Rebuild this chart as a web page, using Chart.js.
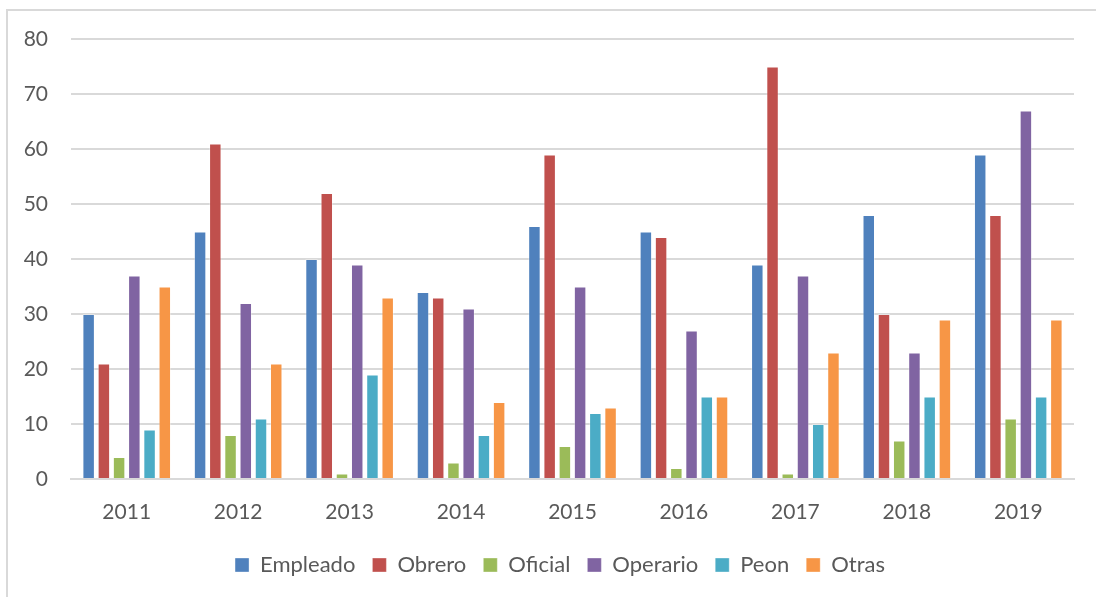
<!DOCTYPE html>
<html>
<head>
<meta charset="utf-8">
<script src="https://cdn.jsdelivr.net/npm/chart.js@4"></script>
<style>
  html, body { margin: 0; padding: 0; background: #fff; }
  #marco { position: absolute; left: 6px; top: 9px; width: 1200px; height: 700px; border: 2px solid #d9d9d9; }
  #caja { position: absolute; left: 0; top: 0; width: 1096px; height: 597px; }
</style>
</head>
<body>
<div id="marco"></div>
<div id="caja"><canvas id="grafico"></canvas></div>
<script>
// Datos
const anios = ["2011", "2012", "2013", "2014", "2015", "2016", "2017", "2018", "2019"];
const empleado = [30, 45, 40, 34, 46, 45, 39, 48, 59];
const obrero   = [21, 61, 52, 33, 59, 44, 75, 30, 48];
const oficial  = [4, 8, 1, 3, 6, 2, 1, 7, 11];
const operario = [37, 32, 39, 31, 35, 27, 37, 23, 67];
const peon     = [9, 11, 19, 8, 12, 15, 10, 15, 15];
const otras    = [35, 21, 33, 14, 13, 15, 23, 29, 29];

const series = [
    { label: "Empleado", data: empleado, color: "#4F81BD" },
    { label: "Obrero",   data: obrero,   color: "#C0504D" },
    { label: "Oficial",  data: oficial,  color: "#9BBB59" },
    { label: "Operario", data: operario, color: "#8064A2" },
    { label: "Peon",     data: peon,     color: "#4BACC6" },
    { label: "Otras",    data: otras,    color: "#F79646" }
];

const fuente = "Lato, 'Open Sans', sans-serif";

// corre la leyenda un poco a la derecha, como en el original
const moverLeyenda = {
    id: "moverLeyenda",
    afterLayout(chart) {
        chart.legend.left += 23;
        chart.legend.right += 23;
    }
};

new Chart(document.getElementById("grafico"), {
    type: "bar",
    data: {
        labels: anios,
        datasets: series.map(s => ({
            label: s.label,
            data: s.data,
            backgroundColor: s.color,
            borderColor: "rgba(255,255,255,0.35)",
            borderWidth: 1,
            categoryPercentage: 0.82,
            barPercentage: 0.82
        }))
    },
    options: {
        responsive: true,
        maintainAspectRatio: false,
        animation: false,
        layout: { padding: { left: 0, right: 22, top: 39, bottom: 11 } },
        scales: {
            x: {
                afterFit: s => { s.height = 58; },
                grid: { display: false, drawTicks: false },
                border: { color: "#d9d9d9", width: 2 },
                ticks: { color: "#595959", font: { family: fuente, size: 21 }, padding: 21 }
            },
            y: {
                min: 0, max: 80,
                afterFit: s => { s.width = 71; },
                grid: { color: "#d9d9d9", lineWidth: 2, drawTicks: false },
                border: { display: false },
                ticks: { stepSize: 10, color: "#595959", font: { family: fuente, size: 21 }, padding: 23 }
            }
        },
        plugins: {
            tooltip: { enabled: false },
            legend: {
                position: "bottom",
                labels: {
                    color: "#595959",
                    font: { family: fuente, size: 22 },
                    boxWidth: 14,
                    boxHeight: 14,
                    padding: 17
                }
            }
        }
    },
    plugins: [moverLeyenda]
});
</script>
</body>
</html>
